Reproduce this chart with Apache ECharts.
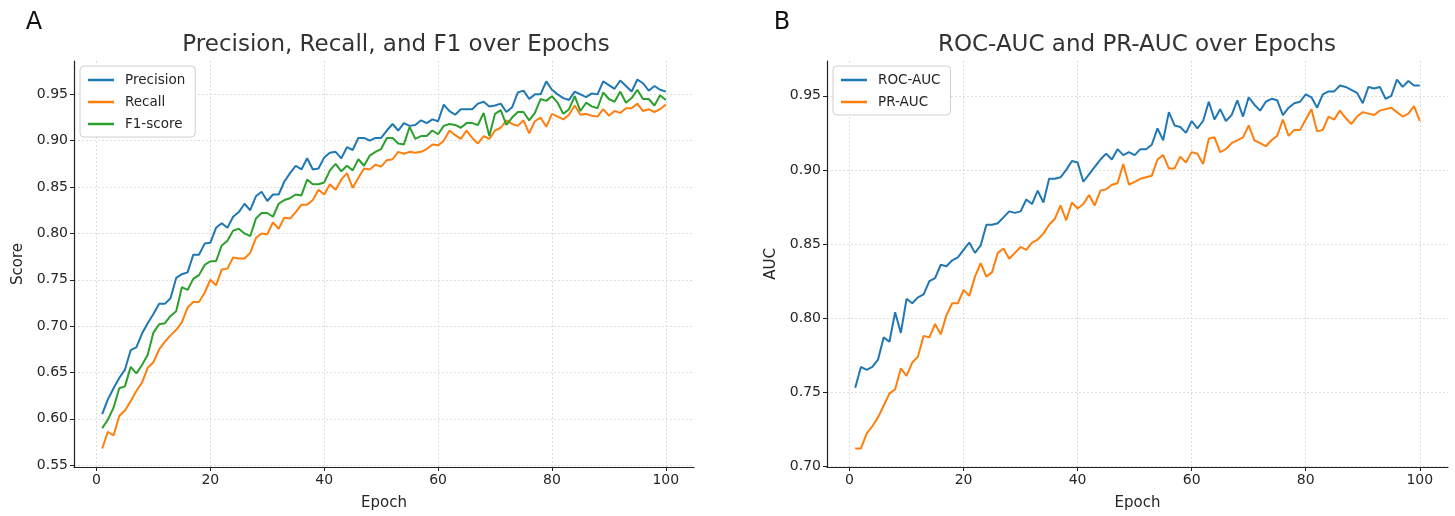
<!DOCTYPE html>
<html>
<head>
<meta charset="utf-8">
<script src="https://cdn.jsdelivr.net/npm/echarts@6/dist/echarts.min.js"></script>
<style>
html,body{margin:0;padding:0;background:#fff;}
#chart{width:1455px;height:516px;}
</style>
</head>
<body>
<div id="chart"></div>
<script>
// ---- Data ----
const epochs = Array.from({length: 100}, (_, i) => i + 1);

const precision = [0.605,0.621,0.633,0.644,0.653,0.674,0.677,0.692,0.703,0.713,
0.724,0.724,0.730,0.752,0.756,0.758,0.777,0.777,0.789,0.790,
0.806,0.811,0.806,0.818,0.823,0.832,0.825,0.840,0.845,0.835,
0.842,0.842,0.856,0.865,0.873,0.869,0.881,0.869,0.870,0.882,
0.887,0.888,0.881,0.893,0.890,0.903,0.903,0.900,0.903,0.903,
0.911,0.918,0.911,0.919,0.916,0.917,0.922,0.919,0.923,0.921,
0.939,0.932,0.928,0.934,0.934,0.934,0.940,0.942,0.937,0.938,
0.940,0.931,0.936,0.952,0.954,0.945,0.950,0.950,0.964,0.955,
0.950,0.946,0.944,0.953,0.950,0.947,0.951,0.950,0.964,0.960,
0.956,0.965,0.959,0.953,0.966,0.962,0.954,0.959,0.955,0.953];

const recall = [0.568,0.586,0.582,0.603,0.609,0.619,0.630,0.639,0.655,0.661,
0.675,0.683,0.690,0.696,0.704,0.720,0.726,0.726,0.736,0.750,
0.744,0.761,0.762,0.774,0.773,0.773,0.779,0.795,0.800,0.799,
0.812,0.805,0.817,0.816,0.823,0.831,0.831,0.836,0.847,0.842,
0.853,0.847,0.858,0.865,0.849,0.860,0.870,0.869,0.874,0.872,
0.879,0.880,0.888,0.886,0.888,0.887,0.888,0.891,0.896,0.895,
0.900,0.911,0.906,0.902,0.911,0.903,0.897,0.905,0.902,0.911,
0.914,0.922,0.918,0.916,0.922,0.908,0.921,0.925,0.915,0.929,
0.926,0.923,0.928,0.938,0.928,0.929,0.927,0.926,0.934,0.927,
0.932,0.930,0.935,0.935,0.940,0.932,0.934,0.931,0.934,0.939];

const f1 = [0.590,0.599,0.612,0.633,0.635,0.656,0.649,0.658,0.669,0.693,
0.702,0.703,0.711,0.716,0.742,0.739,0.751,0.755,0.766,0.770,
0.770,0.787,0.792,0.803,0.805,0.800,0.797,0.816,0.822,0.822,
0.818,0.832,0.836,0.838,0.842,0.841,0.858,0.853,0.853,0.855,
0.868,0.875,0.867,0.873,0.868,0.880,0.873,0.884,0.888,0.891,
0.903,0.903,0.897,0.896,0.915,0.902,0.905,0.905,0.911,0.907,
0.916,0.918,0.917,0.914,0.919,0.919,0.917,0.930,0.905,0.929,
0.933,0.917,0.925,0.931,0.931,0.922,0.930,0.945,0.943,0.948,
0.941,0.929,0.934,0.948,0.932,0.941,0.937,0.935,0.952,0.945,
0.942,0.953,0.941,0.946,0.955,0.945,0.945,0.938,0.949,0.944];

const rocAuc = [0.753,0.767,0.765,0.767,0.772,0.787,0.784,0.804,0.790,0.813,
0.810,0.814,0.816,0.825,0.827,0.836,0.835,0.839,0.841,0.846,
0.851,0.844,0.849,0.863,0.863,0.864,0.868,0.872,0.871,0.872,
0.880,0.877,0.886,0.878,0.894,0.894,0.895,0.900,0.906,0.905,
0.892,0.897,0.902,0.907,0.911,0.907,0.914,0.910,0.912,0.910,
0.914,0.914,0.917,0.928,0.920,0.939,0.930,0.929,0.925,0.933,
0.928,0.933,0.946,0.934,0.941,0.933,0.937,0.947,0.936,0.949,
0.944,0.940,0.946,0.948,0.947,0.937,0.942,0.945,0.946,0.951,
0.949,0.942,0.951,0.953,0.953,0.957,0.956,0.954,0.952,0.945,
0.956,0.955,0.956,0.948,0.950,0.961,0.956,0.960,0.957,0.957];

const prAuc = [0.712,0.712,0.722,0.727,0.733,0.741,0.749,0.752,0.766,0.761,
0.770,0.774,0.788,0.787,0.796,0.789,0.802,0.810,0.810,0.819,
0.815,0.828,0.837,0.828,0.831,0.844,0.847,0.840,0.844,0.848,
0.846,0.851,0.853,0.857,0.863,0.867,0.876,0.866,0.878,0.874,
0.877,0.883,0.876,0.886,0.887,0.890,0.891,0.904,0.890,0.892,
0.894,0.895,0.896,0.907,0.910,0.901,0.901,0.909,0.905,0.912,
0.911,0.904,0.921,0.922,0.912,0.914,0.918,0.920,0.922,0.930,
0.920,0.918,0.916,0.920,0.923,0.934,0.923,0.927,0.927,0.934,
0.941,0.926,0.927,0.936,0.934,0.940,0.935,0.931,0.936,0.939,
0.938,0.937,0.940,0.941,0.942,0.939,0.936,0.938,0.943,0.933];

const xTicks = [0, 20, 40, 60, 80, 100];
const yTicksA = [0.55, 0.60, 0.65, 0.70, 0.75, 0.80, 0.85, 0.90, 0.95];
const yTicksB = [0.70, 0.75, 0.80, 0.85, 0.90, 0.95];

const seriesNamesA = ['Precision', 'Recall', 'F1-score'];
const seriesNamesB = ['ROC-AUC', 'PR-AUC'];
const titleA = 'Precision, Recall, and F1 over Epochs';
const titleB = 'ROC-AUC and PR-AUC over Epochs';

// ---- Styling ----
const C = ['#1f77b4', '#ff7f0e', '#2ca02c'];
const FONT = 'DejaVu Sans';
const TXT = '#262626';

function pairs(vals) { return epochs.map((e, i) => [e, vals[i]]); }

function xAxis(gridIndex) {
  return {
    type: 'value', gridIndex, min: -3.95, max: 104.95,
    name: 'Epoch', nameLocation: 'middle', nameGap: 29,
    nameTextStyle: {fontFamily: FONT, fontSize: 15, color: TXT},
    axisLine: {show: true, onZero: false, lineStyle: {color: '#222', width: 1.2}},
    axisTick: {show: true, length: 4, inside: false, customValues: xTicks, lineStyle: {color: '#222'}},
    axisLabel: {customValues: xTicks, fontFamily: FONT, fontSize: 14, color: TXT, margin: 6},
    splitLine: {show: true, lineStyle: {color: '#dcdcdc', type: [2, 2], width: 1}}
  };
}
function yAxis(gridIndex, min, max, ticks, name, gap) {
  return {
    type: 'value', gridIndex, min, max,
    name, nameLocation: 'middle', nameGap: gap,
    nameTextStyle: {fontFamily: FONT, fontSize: 15, color: TXT},
    axisLine: {show: true, onZero: false, lineStyle: {color: '#222', width: 1.2}},
    axisTick: {show: true, length: 4, inside: false, customValues: ticks, lineStyle: {color: '#222'}},
    axisLabel: {customValues: ticks, fontFamily: FONT, fontSize: 14, color: TXT, margin: 6,
      formatter: v => v.toFixed(2)},
    splitLine: {show: true, lineStyle: {color: '#dcdcdc', type: [2, 2], width: 1}}
  };
}
function line(name, vals, color, idx) {
  return {
    name, type: 'line', xAxisIndex: idx, yAxisIndex: idx, data: pairs(vals),
    symbol: 'none', smooth: false, animation: false,
    lineStyle: {color, width: 2}, itemStyle: {color}
  };
}
function legend(names, left, top) {
  return {
    data: names.map(n => ({name: n, icon: 'rect'})),
    orient: 'vertical', left, top,
    itemWidth: 26, itemHeight: 2.5, itemGap: 8,
    backgroundColor: '#fff', borderColor: '#d0d0d0', borderWidth: 1, borderRadius: 4,
    padding: [7, 10, 6, 8],
    textStyle: {fontFamily: FONT, fontSize: 13.5, color: TXT, padding: [0, 0, 0, 6]}
  };
}

const chart = echarts.init(document.getElementById('chart'), null, {renderer: 'canvas'});
chart.setOption({
  animation: false,
  backgroundColor: '#fff',
  grid: [
    {left: 74, top: 61, width: 620, height: 411},
    {left: 827, top: 61, width: 621, height: 411}
  ],
  xAxis: [xAxis(0), xAxis(1)],
  yAxis: [
    yAxis(0, 0.548, 0.986, yTicksA, 'Score', 48),
    yAxis(1, 0.6995, 0.9735, yTicksB, 'AUC', 48)
  ],
  legend: [legend(seriesNamesA, 80, 66), legend(seriesNamesB, 833, 66)],
  series: [
    line(seriesNamesA[0], precision, C[0], 0),
    line(seriesNamesA[1], recall, C[1], 0),
    line(seriesNamesA[2], f1, C[2], 0),
    line(seriesNamesB[0], rocAuc, C[0], 1),
    line(seriesNamesB[1], prAuc, C[1], 1)
  ],
  graphic: [
    {type: 'text', x: 34, y: 23, style: {text: 'A', fontFamily: FONT, fontSize: 24, fill: '#111', align: 'center', verticalAlign: 'middle'}},
    {type: 'text', x: 782, y: 23, style: {text: 'B', fontFamily: FONT, fontSize: 24, fill: '#111', align: 'center', verticalAlign: 'middle'}},
    {type: 'text', x: 396, y: 45, style: {text: titleA, fontFamily: FONT, fontSize: 23, fill: '#333', align: 'center', verticalAlign: 'middle'}},
    {type: 'text', x: 1137, y: 45, style: {text: titleB, fontFamily: FONT, fontSize: 23, fill: '#333', align: 'center', verticalAlign: 'middle'}}
  ]
});
</script>
</body>
</html>
